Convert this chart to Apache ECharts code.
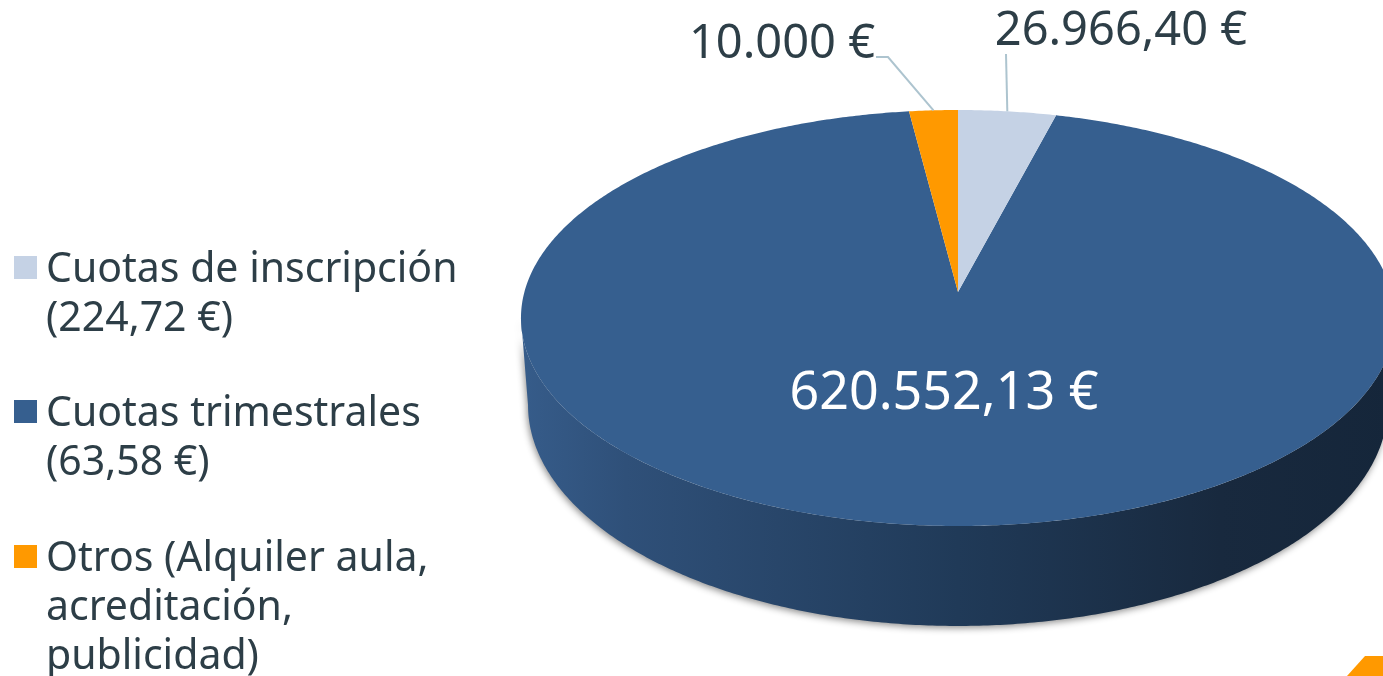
<!DOCTYPE html>
<html><head><meta charset="utf-8">
<style>html,body{margin:0;padding:0;background:#fff}#c{width:1383px;height:676px}</style>
<script src="https://cdn.jsdelivr.net/npm/echarts@6/dist/echarts.min.js"></script>
</head><body><div id="c"></div>
<script>
const names = ['Cuotas de inscripción\n(224,72 €)', 'Cuotas trimestrales\n(63,58 €)', 'Otros (Alquiler aula,\nacreditación,\npublicidad)'];
const values = [26966.40, 620552.13, 10000];
const valueLabels = ['26.966,40 €', '620.552,13 €', '10.000 €'];
const colors = ['#c5d2e5', '#365f8f', '#ff9900'];

const FONT = '"Noto Sans"';
const TEXT = '#2d3e47';
const MIN_ANGLE = 7.3;           // like the pie option minAngle
const CX = 958, AY = 292, A = 433.6, B = 204.75, K = -0.125;

// tilted-disc projection of a clock angle (degrees from 12 o'clock)
function rim(deg, a = A, b = B, cy = AY) {
  const r = deg * Math.PI / 180, u = Math.sin(r), v = -Math.cos(r), w = 1 + K * v;
  return [CX + a * u / w, cy + b * v / w];
}
function arc(d0, d1, a, b, cy) {
  const pts = [], n = Math.max(2, Math.ceil(Math.abs(d1 - d0) * 2));
  for (let i = 0; i <= n; i++) pts.push(rim(d0 + (d1 - d0) * i / n, a, b, cy));
  return pts;
}
// slice spans, clockwise from 12 o'clock, with the smallest slice kept at MIN_ANGLE
const small = values.map(v => v / values.reduce((s, x) => s + x, 0) * 360 < MIN_ANGLE);
const freeTotal = values.reduce((s, v, i) => s + (small[i] ? 0 : v), 0);
const freeAngle = 360 - small.filter(Boolean).length * MIN_ANGLE;
function spans() {
  let a = 0;
  return values.map((v, i) => {
    const d = small[i] ? MIN_ANGLE : v / freeTotal * freeAngle;
    const s = [a, a + d]; a += d; return s;
  });
}
const SP = spans();

const labelSpec = [
  {x: 1121, y: 32, size: 47, fill: TEXT, leader: [[1006, 54]]},
  {x: 944, y: 394, size: 52, fill: '#ffffff'},
  {x: 782, y: 45, size: 47, fill: TEXT, leader: [[876, 57], [888, 57]]}
];

function renderSlice(idx) {
  return function (params, api) {
    const [d0, d1] = SP[idx];
    const ch = [];
    if (idx === 1) {
      // extruded wall below the disc, joined at the disc's widest points
      const lower = arc(97.18, 262.82, 426.6, 217.5, 377.4);
      const upper = arc(262.82, 97.18, A, B, AY);
      ch.push({
        type: 'polygon', shape: {points: lower.concat(upper)},
        style: {
          fill: new echarts.graphic.LinearGradient(0, 0, 1, 0, [
            {offset: 0, color: '#365c8a'},
            {offset: 0.12, color: '#2f5079'},
            {offset: 0.5, color: '#203a58'},
            {offset: 0.8, color: '#18293e'},
            {offset: 1, color: '#15263a'}
          ]),
          shadowColor: 'rgba(0,0,0,0.45)', shadowBlur: 7, shadowOffsetX: -1, shadowOffsetY: 2
        }
      });
    }
    ch.push({
      type: 'polygon',
      shape: {points: [[CX, AY]].concat(arc(d0, d1))},
      style: {fill: colors[idx]}
    });
    const L = labelSpec[idx];
    if (L.leader) {
      const mid = rim((d0 + d1) / 2);
      ch.push({
        type: 'polyline', shape: {points: L.leader.concat([mid])},
        style: {fill: 'none', stroke: '#adc4cf', lineWidth: 2}
      });
    }
    ch.push({
      type: 'text',
      style: {x: L.x, y: L.y, text: valueLabels[idx], fill: L.fill,
        font: '400 ' + L.size + 'px ' + FONT, textAlign: 'center', textVerticalAlign: 'middle'}
    });
    return {type: 'group', children: ch};
  };
}

// Blank lines above the text keep the legend swatch level with the first line.
function legendText(nm) {
  const lines = nm.split('\n');
  const pad = lines.slice(1).map((_, i) => i === lines.length - 2 ? '{s| }' : '{t| }');
  return pad.concat(lines.map(l => '{t|' + l + '}')).join('\n');
}
const legendTops = [198, 342, 435];
const option = {
  animation: false,
  backgroundColor: '#ffffff',
  legend: names.map((n, i) => ({
    data: [{name: n, icon: 'rect'}],
    orient: 'vertical', left: 14, top: legendTops[i], padding: 0,
    itemWidth: 23, itemHeight: 23, itemGap: 10, selectedMode: false,
    formatter: legendText,
    textStyle: {
      color: TEXT, padding: [0, 0, 0, 4],
      rich: {
        t: {fontFamily: FONT, fontSize: 41, color: TEXT, lineHeight: 49},
        s: {fontFamily: FONT, fontSize: 41, color: TEXT, lineHeight: 55}
      }
    }
  })),
  series: names.map((n, i) => ({
    type: 'custom', name: n, coordinateSystem: 'none',
    itemStyle: {color: colors[i]},
    z: i === 1 ? 1 : 2,
    renderItem: renderSlice(i),
    data: [[values[i]]]
  })),
  graphic: [{
    type: 'polygon', silent: true,
    shape: {points: [[1347, 676], [1365, 656], [1383, 656], [1383, 676]]},
    style: {fill: '#ff9900'}
  }]
};
echarts.init(document.getElementById('c'), null, {renderer: 'canvas'}).setOption(option);
</script></body></html>
